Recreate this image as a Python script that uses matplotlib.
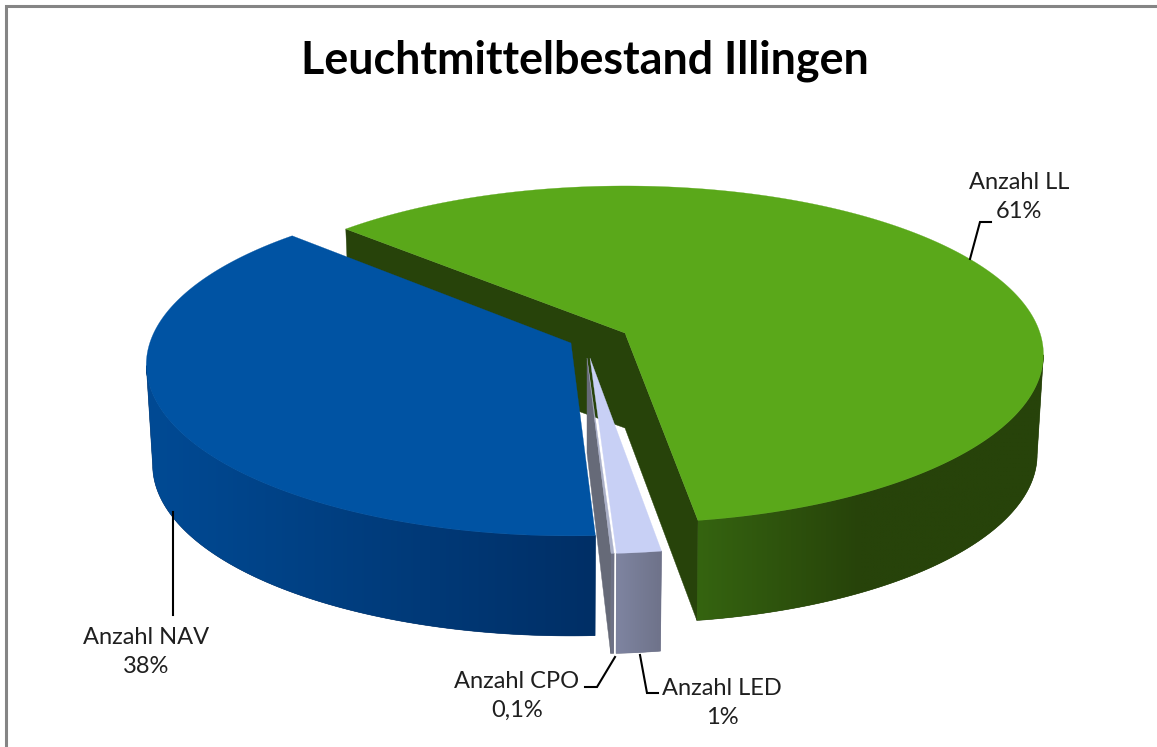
#!/usr/bin/env python3
import numpy as np
import matplotlib
matplotlib.use("Agg")
import matplotlib.pyplot as plt
from matplotlib.colors import to_rgb
from matplotlib.patches import Polygon

# data
categories = ["Anzahl LL", "Anzahl LED", "Anzahl CPO", "Anzahl NAV"]
shares = [60.6, 1.55, 0.1, 38.0]
pct_labels = ["61%", "1%", "0,1%", "38%"]
title = "Leuchtmittelbestand Illingen"

# look of the slices
top_colors = ["#5aa81a", "#c8d0f5", "#aab0c8", "#0053a3"]
wall_left = ["#356410", "#7e84a0", "#70748a", "#004a94"]
wall_right = ["#27430a", "#6e7289", "#666a78", "#002f66"]
cut_color = ["#27430a", None, "#666a78", None]
apex_x = [625, 590, 587, 571]
apex_y = [333, 358, 358, 343]
scales_x = [1.0, 0.98, 1.0, 1.015]
scales_y = [1.0, 1.03, 1.03, 1.015]
wall_range = [(697, 860), (618, 662), (610, 620), (150, 594)]

START = 137.0
A = 415.0
B = 165.8
K = 0.1276
DEPTH = 100.0


def rim(t, i):
    # round pie seen with perspective, far side is squeezed
    t = np.radians(t)
    w = 1 + K * np.sin(t)
    x = apex_x[i] + scales_x[i] * A * np.cos(t) / w
    y = apex_y[i] - scales_y[i] * B * np.sin(t) / w
    return x, y


def rim_low(t, i):
    x, y = rim(t, i)
    return apex_x[i] + (x - apex_x[i]) * 0.985, y + DEPTH


fig = plt.figure(figsize=(11.57, 7.47), dpi=100)
ax = fig.add_axes([0, 0, 1, 1])
ax.axis("off")

# frame of the chart, only top and left are in the crop
ax.plot([5.5, 5.5, 1157], [747, 6, 6], color="#858585", lw=2.2, solid_joinstyle="miter")

# start/end angle of each slice
ends = START - np.cumsum(shares) * 3.6
starts = np.r_[START, ends[:-1]]

for i in range(len(shares)):
    t0, t1 = starts[i], ends[i]
    ts = np.linspace(t0, t1, max(int(abs(t1 - t0)) * 2, 6))
    ax_, ay_ = apex_x[i], apex_y[i]
    z = 2 + i * 4

    # cut faces
    if cut_color[i] is not None:
        for t in ([t0, t1] if i == 0 else [t1]):
            xt, yt = rim(t, i)
            xb, yb = rim_low(t, i)
            ax.fill([ax_, xt, xb, ax_], [ay_, yt, yb, ay_ + 95],
                    color=cut_color[i], lw=0.3, zorder=z)

    # outer wall, a gradient from left to right clipped to the wall shape
    front = ts[np.sin(np.radians(ts)) <= -K]
    xa, ya = rim(front, i)
    xb, yb = rim_low(front, i)
    wx = np.r_[xa, xb[::-1]]
    wy = np.r_[ya, yb[::-1]]
    shape = Polygon(np.c_[wx, wy], closed=True, facecolor=wall_right[i], lw=0.4,
                    edgecolor=wall_right[i], transform=ax.transData, zorder=z + 1)
    ax.add_patch(shape)
    gx = np.linspace(wx.min(), wx.max(), 300)
    lo, hi = wall_range[i]
    f = np.clip((gx - lo) / (hi - lo), 0, 1)[None, :, None]
    grad = np.array(to_rgb(wall_left[i]))[None, None, :] * (1 - f) \
        + np.array(to_rgb(wall_right[i]))[None, None, :] * f
    im = ax.imshow(grad, extent=(wx.min(), wx.max(), wy.max(), wy.min()),
                   aspect="auto", interpolation="bilinear", zorder=z + 2)
    im.set_clip_path(shape)

    # top
    xs, ys = rim(ts, i)
    ax.fill(np.r_[ax_, xs], np.r_[ay_, ys], color=top_colors[i], lw=0.2, zorder=z + 3)

# leader lines
leaders = [
    ([970, 980, 991], [259, 222, 222]),
    ([640, 647, 658], [655, 693, 693]),
    ([615, 597, 585], [657, 687, 687]),
    ([173, 173], [512, 615]),
]
label_x = [1019, 722, 517, 146]
label_y = [197, 703, 696, 652]
for i, name in enumerate(categories):
    ax.plot(leaders[i][0], leaders[i][1], color="black", lw=1.5, solid_joinstyle="miter", zorder=30)
    ax.text(label_x[i], label_y[i], name + "\n" + pct_labels[i], ha="center", va="center",
            family="Lato", fontsize=17, color="#1f1f1f", linespacing=1.45, zorder=31)

ax.text(585, 61, title, ha="center", va="center", family="Lato", weight="bold",
        fontsize=32.3, color="black")

ax.set_xlim(0, 1157)
ax.set_ylim(747, 0)

fig.savefig("out.png", dpi=100)
